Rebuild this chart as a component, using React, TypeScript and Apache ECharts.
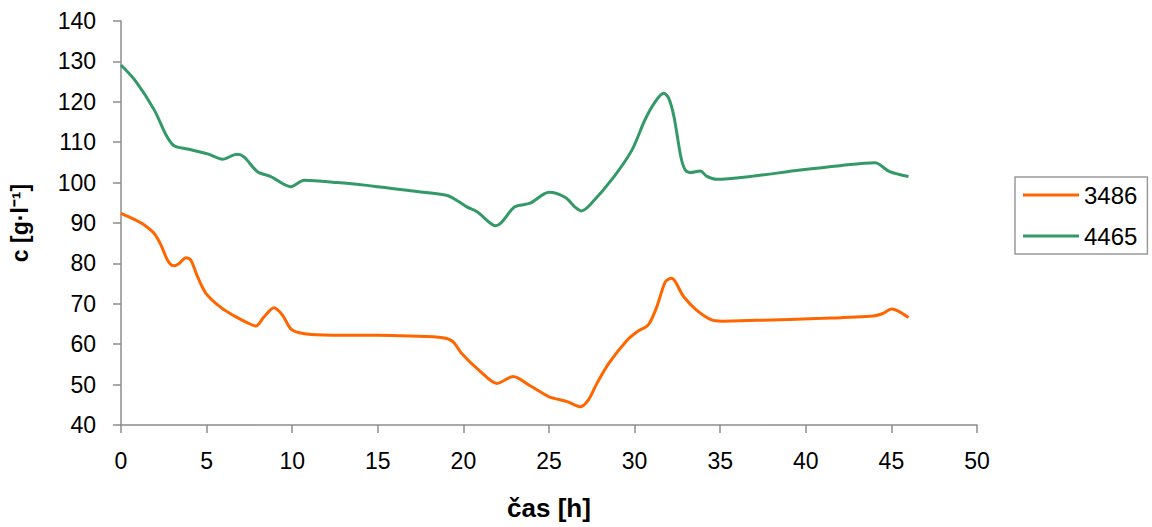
import React, { useEffect, useRef } from "react";
import * as echarts from "echarts";

const seriesNames = ["3486", "4465"];

const t3486 = [0, 0.78, 1.36, 1.94, 2.33, 2.72, 3.07, 3.4, 3.79, 4.08, 4.47, 4.96, 5.83, 6.61, 7.39, 7.88, 8.36, 8.94, 9.43, 10.0, 11.1, 13.0, 15.0, 16.9, 18.8, 19.4, 19.9, 21.0, 21.96, 22.9, 23.9, 24.99, 25.3, 26.06, 26.84, 27.3, 27.8, 28.5, 29.56, 30.15, 30.8, 31.3, 31.8, 32.15, 32.86, 33.6, 34.5, 35.1, 37.1, 41.0, 43.95, 44.5, 45.0, 45.4, 46.0];
const v3486 = [92.4, 90.9, 89.5, 87.4, 84.6, 80.8, 79.4, 80.0, 81.4, 80.8, 76.7, 72.6, 69.1, 67.0, 65.3, 64.5, 66.8, 69.0, 67.2, 63.5, 62.4, 62.2, 62.2, 62.0, 61.6, 60.6, 57.7, 53.2, 50.3, 52.0, 49.7, 47.0, 46.6, 45.8, 44.5, 46.2, 50.3, 55.3, 61.0, 63.1, 64.8, 69.3, 75.5, 76.3, 71.8, 68.5, 66.0, 65.7, 65.9, 66.4, 67.0, 67.6, 68.7, 68.2, 66.6];

const t4465 = [0, 0.875, 1.94, 2.63, 3.1, 3.89, 5.06, 5.93, 6.77, 7.2, 7.97, 8.75, 9.92, 10.7, 12.64, 14.98, 17.3, 19.06, 19.64, 20.2, 20.8, 21.9, 23.0, 23.9, 25.0, 25.96, 26.5, 26.9, 27.4, 28.8, 29.85, 30.6, 31.2, 31.7, 31.99, 32.3, 32.7, 32.96, 33.25, 33.84, 34.2, 34.8, 36.75, 39.67, 42.0, 44.05, 44.3, 44.9, 46.0];
const v4465 = [129.1, 125.0, 118.0, 111.8, 109.1, 108.3, 107.1, 105.8, 107.0, 106.3, 102.7, 101.5, 99.0, 100.6, 100.0, 99.0, 97.8, 96.8, 95.5, 94.0, 92.8, 89.3, 94.0, 94.9, 97.6, 96.3, 94.0, 93.0, 94.5, 101.5, 108.1, 115.5, 120.0, 122.1, 120.9, 116.3, 106.4, 103.1, 102.5, 102.9, 101.6, 100.8, 101.5, 103.1, 104.2, 104.9, 104.5, 102.7, 101.5];

const colors = ["#FF6600", "#339966"];
const xTitle = "čas [h]";
const yTitle = "c [g·l⁻¹]";

function pairs(t: number[], v: number[]) {
  return t.map((x, i) => [x, v[i]]);
}

export default function App() {
  const ref = useRef<HTMLDivElement>(null);
  useEffect(() => {
    const chart = echarts.init(ref.current!, undefined, { renderer: "svg" });
    const axisLineStyle = { color: "#8c8c8c", width: 1.5 };
    chart.setOption({
      animation: false,
      textStyle: { fontFamily: "Liberation Sans, Arial, sans-serif" },
      grid: { left: 120, right: 175, top: 21, bottom: 102 },
      legend: {
        orient: "vertical",
        left: 1015,
        top: 177,
        width: 133,
        padding: [6, 10, 6, 8],
        itemWidth: 56,
        itemHeight: 3,
        itemGap: 17,
        icon: "rect",
        borderColor: "#9a9a9a",
        borderWidth: 1.5,
        textStyle: { fontSize: 24, color: "#000" },
        data: seriesNames,
      },
      xAxis: {
        type: "value",
        min: 0,
        max: 50,
        interval: 5,
        name: xTitle,
        nameLocation: "middle",
        nameGap: 70,
        nameTextStyle: { fontSize: 26, fontWeight: "bold", color: "#000" },
        axisLine: { lineStyle: axisLineStyle },
        axisTick: { show: true, length: 8, lineStyle: axisLineStyle },
        axisLabel: { fontSize: 23, color: "#000", margin: 24 },
        splitLine: { show: false },
      },
      yAxis: {
        type: "value",
        min: 40,
        max: 140,
        interval: 10,
        name: yTitle,
        nameLocation: "middle",
        nameGap: 90,
        nameRotate: 90,
        nameTextStyle: { fontSize: 23, fontWeight: "bold", color: "#000" },
        axisLine: { show: true, lineStyle: axisLineStyle },
        axisTick: { show: true, length: 8, lineStyle: axisLineStyle },
        axisLabel: { fontSize: 23, color: "#000", margin: 25 },
        splitLine: { show: false },
      },
      series: [
        {
          name: seriesNames[0],
          type: "line",
          data: pairs(t3486, v3486),
          smooth: 0.3,
          showSymbol: false,
          symbol: "none",
          lineStyle: { color: colors[0], width: 3 },
          itemStyle: { color: colors[0] },
        },
        {
          name: seriesNames[1],
          type: "line",
          data: pairs(t4465, v4465),
          smooth: 0.3,
          showSymbol: false,
          symbol: "none",
          lineStyle: { color: colors[1], width: 3 },
          itemStyle: { color: colors[1] },
        },
      ],
    });
    return () => chart.dispose();
  }, []);
  return <div ref={ref} style={{ width: 1152, height: 527, position: "absolute", left: 0, top: 0 }} />;
}
